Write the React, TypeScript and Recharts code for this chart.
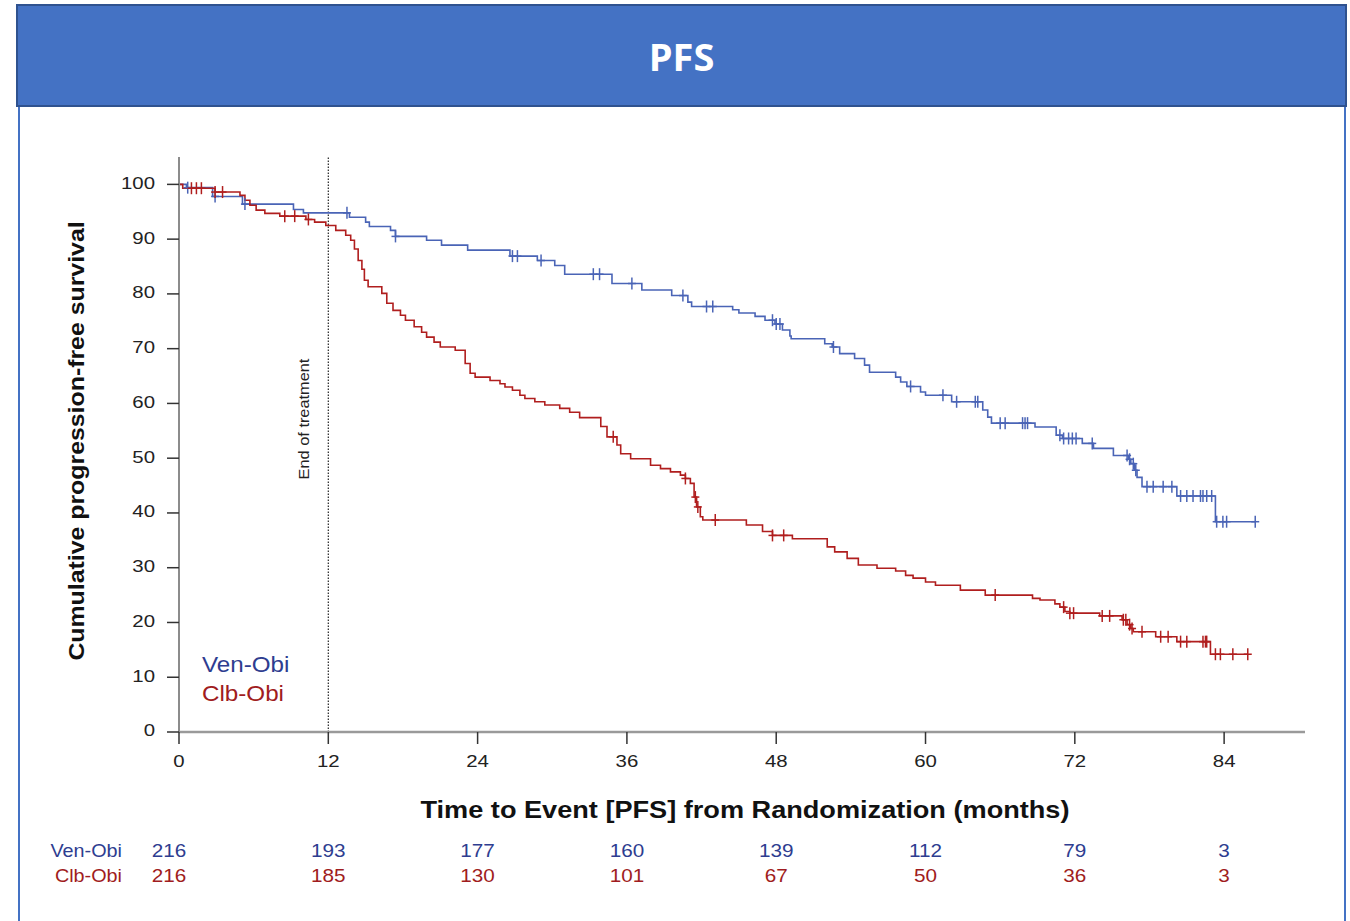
import {
  ComposedChart,
  Customized,
  Line,
  ReferenceLine,
  Scatter,
  XAxis,
  YAxis,
} from "recharts";

// months shown on the time axis and at-risk rows
const months = [0, 12, 24, 36, 48, 60, 72, 84];
const yTicks = [0, 10, 20, 30, 40, 50, 60, 70, 80, 90, 100];

// Ven-Obi Kaplan-Meier steps (month, % progression-free)
const venTimes = [
  0, 0.6, 2.7, 5.1, 9.2, 10.0, 13.7, 15.0, 15.3, 17.0, 17.4, 19.9, 21.1, 23.2,
  26.6, 28.8, 30.2, 31.0, 34.8, 37.2, 39.6, 40.9, 41.2, 44.5, 45.0, 46.3, 47.1,
  47.9, 48.5, 49.1, 49.2, 51.9, 52.5, 53.1, 54.3, 55.1, 55.5, 57.6, 58.0, 58.5,
  59.6, 60.0, 62.1, 64.6, 65.0, 65.3, 68.8, 70.5, 71.0, 72.6, 73.5, 75.1, 76.3,
  76.5, 76.8, 77.0, 77.4, 80.2, 83.3, 86.5,
];
const venSurv = [
  100, 99.4, 97.8, 96.4, 95.4, 94.8, 94.0, 93.1, 92.3, 91.6, 90.5, 89.8, 88.9,
  88.0, 86.9, 86.1, 85.2, 83.6, 81.9, 80.7, 79.7, 78.5, 77.7, 77.1, 76.5, 75.9,
  75.2, 74.5, 73.4, 72.3, 71.8, 70.9, 70.3, 69.1, 68.2, 67.0, 65.7, 64.8, 63.9,
  63.1, 62.1, 61.5, 60.3, 58.8, 57.5, 56.4, 55.7, 54.2, 53.6, 52.7, 51.8, 50.5,
  49.8, 49.0, 47.8, 46.5, 44.8, 43.1, 38.4, 38.4,
];
const venCensored = [
  0.7, 2.9, 5.3, 13.5, 17.4, 26.8, 27.2, 29.1, 33.3, 33.8, 36.4, 40.5, 42.4,
  42.9, 47.7, 48.0, 48.3, 52.6, 58.8, 61.4, 62.5, 64.0, 64.2, 66.0, 66.4, 67.8,
  68.0, 68.2, 70.8, 71.1, 71.5, 71.8, 72.1, 73.4, 76.2, 76.4, 76.7, 76.9, 77.8,
  78.3, 79.1, 79.8, 80.5, 81.0, 81.5, 82.1, 82.3, 82.6, 83.0, 83.4, 83.9, 84.2,
  86.5,
];

// Clb-Obi Kaplan-Meier steps
const clbTimes = [
  0, 0.3, 2.9, 4.9, 5.3, 5.7, 6.2, 6.9, 8.1, 10.2, 10.9, 11.8, 12.6, 13.4, 13.8,
  14.1, 14.4, 14.7, 14.9, 15.2, 16.3, 16.7, 17.2, 17.8, 18.2, 18.9, 19.5, 19.9,
  20.5, 21.0, 22.2, 23.0, 23.4, 23.8, 25.0, 25.8, 26.2, 26.8, 27.4, 27.8, 28.6,
  29.4, 30.6, 31.4, 32.2, 33.9, 34.4, 35.2, 35.5, 36.3, 37.9, 38.7, 39.5, 40.3,
  40.7, 41.1, 41.4, 41.6, 41.9, 42.1, 45.6, 46.9, 47.7, 49.3, 52.1, 52.7, 53.7,
  54.6, 56.1, 57.6, 58.4, 59.0, 60.0, 60.8, 62.8, 64.8, 68.6, 69.2, 70.4, 70.8,
  71.2, 71.6, 74.0, 75.8, 76.2, 76.5, 76.7, 78.5, 80.2, 82.9, 85.9,
];
const clbSurv = [
  100, 99.3, 98.6, 98.0, 97.1, 96.2, 95.3, 94.7, 94.2, 93.6, 93.1, 92.5, 91.6,
  90.7, 89.8, 88.2, 86.1, 84.5, 82.5, 81.3, 80.1, 78.3, 77.0, 76.1, 75.2, 74.0,
  73.0, 72.1, 71.2, 70.3, 69.7, 67.3, 65.5, 64.8, 64.2, 63.6, 63.0, 62.4, 61.5,
  60.9, 60.3, 59.7, 59.1, 58.4, 57.4, 55.8, 53.9, 52.4, 50.8, 49.9, 48.7, 48.1,
  47.5, 46.9, 46.3, 45.4, 42.9, 41.1, 39.3, 38.7, 37.8, 36.6, 35.9, 35.3, 33.8,
  32.9, 31.7, 30.5, 29.9, 29.4, 28.6, 28.1, 27.4, 26.8, 25.9, 25.0, 24.4, 24.1,
  23.4, 22.8, 22.0, 21.7, 21.2, 20.5, 19.6, 18.9, 18.3, 17.4, 16.5, 14.2, 14.2,
];
const clbCensored = [
  1.0, 1.4, 1.8, 2.9, 3.5, 8.5, 9.3, 10.4, 34.9, 40.7, 41.5, 41.7, 43.1, 47.7,
  48.6, 65.6, 71.1, 71.6, 71.9, 74.2, 74.8, 75.9, 76.1, 76.4, 76.6, 77.4, 78.9,
  79.5, 80.5, 81.0, 82.3, 82.5, 82.6, 83.3, 83.7, 84.7, 85.9,
];

// numbers at risk under each month tick
const venAtRisk = [216, 193, 177, 160, 139, 112, 79, 3];
const clbAtRisk = [216, 185, 130, 101, 67, 50, 36, 3];

const VEN_LINE = "#4a64b6";
const CLB_LINE = "#b01e1e";
const VEN_TEXT = "#2e3d90";
const CLB_TEXT = "#a01c20";
const FONT = "'Liberation Sans', Arial, sans-serif";

const survAt = (times: number[], surv: number[], t: number) => {
  let v = surv[0];
  times.forEach((tt, i) => {
    if (tt <= t) v = surv[i];
  });
  return v;
};

const venData = venTimes.map((t, i) => ({ t, s: venSurv[i] }));
const clbData = clbTimes.map((t, i) => ({ t, s: clbSurv[i] }));
const venMarks = venCensored.map((t) => ({ t, s: survAt(venTimes, venSurv, t) }));
const clbMarks = clbCensored.map((t) => ({ t, s: survAt(clbTimes, clbSurv, t) }));

// text drawn a little wider than the font, like the original export
const Wide = ({
  x,
  y,
  sx = 1.2,
  rotate = 0,
  children,
  ...rest
}: any) => (
  <text
    transform={`translate(${x},${y}) rotate(${rotate}) scale(${sx},1)`}
    dominantBaseline="middle"
    fontFamily={FONT}
    {...rest}
  >
    {children}
  </text>
);

const censorShape = (color: string) => (props: any) => {
  const { cx, cy } = props;
  return (
    <g stroke={color} strokeWidth={1.5}>
      <line x1={cx} x2={cx} y1={cy - 6} y2={cy + 6} />
      <line x1={cx - 4} x2={cx + 4} y1={cy} y2={cy} />
    </g>
  );
};

// month label plus the two at-risk rows underneath it
const MonthTick = (props: any) => {
  const { x, payload } = props;
  const idx = months.indexOf(payload.value);
  const rowX = x + (payload.value === 0 ? -10 : 0);
  return (
    <g>
      <Wide x={x} y={763} textAnchor="middle" fontSize={17} fill="#222">
        {payload.value}
      </Wide>
      <Wide x={rowX} y={852} textAnchor="middle" fontSize={18} sx={1.15} fill={VEN_TEXT}>
        {venAtRisk[idx]}
      </Wide>
      <Wide x={rowX} y={877} textAnchor="middle" fontSize={18} sx={1.15} fill={CLB_TEXT}>
        {clbAtRisk[idx]}
      </Wide>
    </g>
  );
};

const SurvTick = (props: any) => {
  const { x, y, payload } = props;
  return (
    <Wide x={x} y={y} textAnchor="end" fontSize={17} fill="#222">
      {payload.value}
    </Wide>
  );
};

const ChartTexts = () => (
  <g>
    <Wide x={78} y={441} rotate={-90} sx={1.13} textAnchor="middle" fontSize={22} fontWeight="bold" fill="#111">
      Cumulative progression-free survival
    </Wide>
    <Wide x={745} y={812} sx={1.18} textAnchor="middle" fontSize={23} fontWeight="bold" fill="#111">
      Time to Event [PFS] from Randomization (months)
    </Wide>
    <Wide x={305} y={419} rotate={-90} sx={1.09} textAnchor="middle" fontSize={15} fill="#222">
      End of treatment
    </Wide>
    <Wide x={202} y={666} sx={1.1} fontSize={22} fill={VEN_TEXT}>
      Ven-Obi
    </Wide>
    <Wide x={202} y={695} sx={1.1} fontSize={22} fill={CLB_TEXT}>
      Clb-Obi
    </Wide>
    <Wide x={122} y={852} sx={1.1} textAnchor="end" fontSize={18} fill={VEN_TEXT}>
      Ven-Obi
    </Wide>
    <Wide x={122} y={877} sx={1.1} textAnchor="end" fontSize={18} fill={CLB_TEXT}>
      Clb-Obi
    </Wide>
  </g>
);

export default function App() {
  return (
    <div
      style={{
        position: "absolute",
        left: 0,
        top: 0,
        width: 1350,
        height: 921,
        background: "#fff",
        overflow: "hidden",
      }}
    >
      {/* slide frame */}
      <div
        style={{
          position: "absolute",
          left: 18,
          top: 100,
          width: 1324,
          height: 840,
          borderLeft: "2px solid #4472c4",
          borderRight: "2px solid #4472c4",
        }}
      />
      <div
        style={{
          position: "absolute",
          left: 16,
          top: 4,
          width: 1327,
          height: 99,
          background: "#4472c4",
          border: "2px solid #2f528f",
          display: "flex",
          alignItems: "center",
          justifyContent: "center",
          color: "#fff",
          fontFamily: "'Open Sans', sans-serif",
          fontWeight: 700,
          fontSize: 38,
        }}
      >
        PFS
      </div>

      <div style={{ position: "absolute", left: 0, top: 0 }}>
        <ComposedChart
          width={1350}
          height={921}
          margin={{ top: 157, right: 45, bottom: 39, left: 99 }}
        >
          <XAxis
            dataKey="t"
            type="number"
            domain={[0, 90.5]}
            ticks={months}
            allowDataOverflow
            height={150}
            axisLine={{ stroke: "#9a9a9a", strokeWidth: 2.5 }}
            tickLine={{ stroke: "#333", strokeWidth: 1.5 }}
            tickSize={12}
            tickMargin={0}
            tick={MonthTick}
          />
          <YAxis
            type="number"
            domain={[0, 105]}
            ticks={yTicks}
            width={80}
            allowDataOverflow
            axisLine={{ stroke: "#8c8c8c", strokeWidth: 2 }}
            tickLine={{ stroke: "#333", strokeWidth: 1.5 }}
            tickSize={12}
            tickMargin={12}
            tick={SurvTick}
          />
          <ReferenceLine x={12} stroke="#222" strokeWidth={1.2} strokeDasharray="1.5 1.5" />
          <Line
            data={venData}
            dataKey="s"
            type="stepAfter"
            stroke={VEN_LINE}
            strokeWidth={1.6}
            dot={false}
            activeDot={false}
            isAnimationActive={false}
          />
          <Line
            data={clbData}
            dataKey="s"
            type="stepAfter"
            stroke={CLB_LINE}
            strokeWidth={1.6}
            dot={false}
            activeDot={false}
            isAnimationActive={false}
          />
          <Scatter
            data={venMarks}
            dataKey="s"
            shape={censorShape(VEN_LINE)}
            isAnimationActive={false}
          />
          <Scatter
            data={clbMarks}
            dataKey="s"
            shape={censorShape(CLB_LINE)}
            isAnimationActive={false}
          />
          <Customized component={ChartTexts} />
        </ComposedChart>
      </div>
    </div>
  );
}
